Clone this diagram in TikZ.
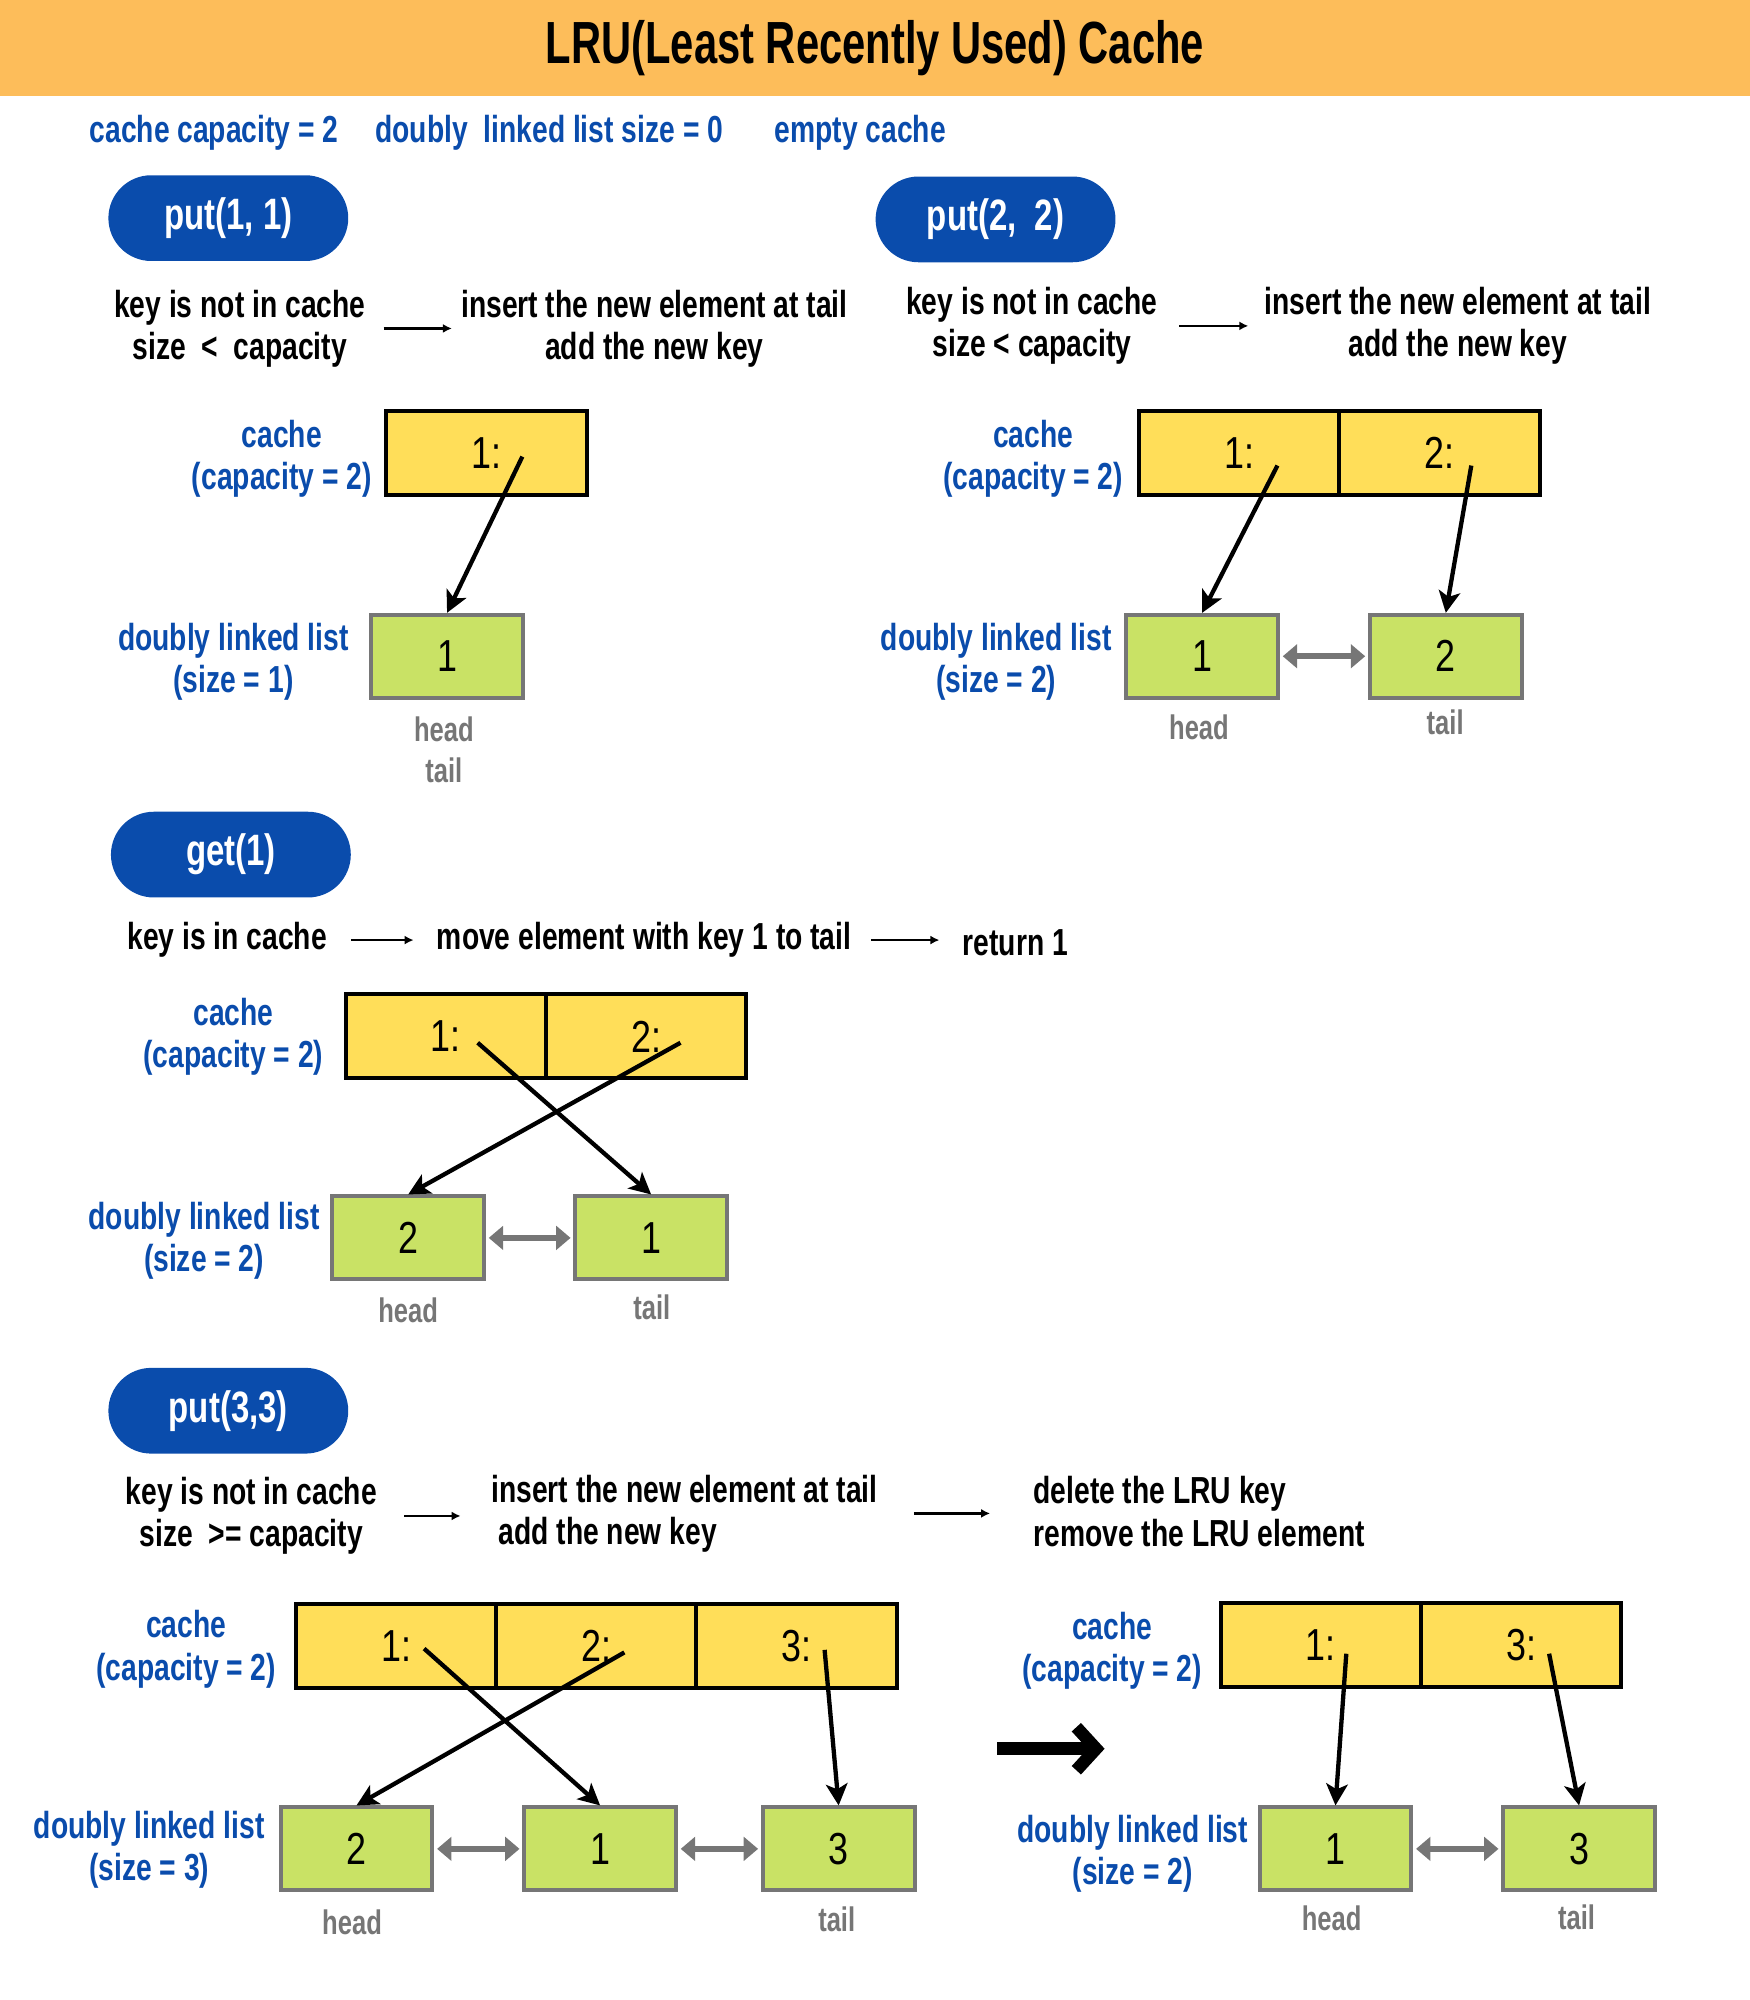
\documentclass[tikz,border=0pt]{standalone}
\usepackage{graphicx}
\usepackage{fontspec}
\setmainfont{Liberation Sans}[FakeStretch=0.75]
\newfontfamily\digitfont{Liberation Sans}[FakeStretch=0.8]
\usetikzlibrary{arrows.meta,calc}

\definecolor{bannerorange}{HTML}{FDBD5A}
\definecolor{lrublue}{HTML}{0A4CAC}
\definecolor{cacheyellow}{HTML}{FFDE59}
\definecolor{listgreen}{HTML}{C9E265}
\definecolor{nodegray}{HTML}{767676}

\begin{document}
\begin{tikzpicture}[x=0.025cm,y=-0.025cm,
  banner/.style={fill=bannerorange, minimum width=34.3cm, minimum height=1.875cm, inner sep=0pt,
    font=\bfseries\fontsize{31}{36}\selectfont},
  txt/.style={font=\bfseries\fontsize{21}{23.5}\selectfont, text=black, inner sep=0pt},
  lbl/.style={font=\bfseries\fontsize{21}{23.5}\selectfont, text=lrublue, align=center, inner sep=0pt},
  pill/.style={fill=lrublue, rounded corners=0.84cm, minimum width=4.7cm, minimum height=1.68cm,
    text=white, font=\bfseries\fontsize{24.5}{27}\selectfont},
  cell/.style={draw=black, line width=2.2pt, fill=cacheyellow, minimum width=3.925cm,
    minimum height=1.65cm, font=\digitfont\fontsize{25}{28}\selectfont, inner sep=0pt},
  lnode/.style={draw=nodegray, line width=2.2pt, fill=listgreen, minimum width=2.975cm,
    minimum height=1.625cm, font=\digitfont\fontsize{25}{28}\selectfont, inner sep=0pt},
  endtag/.style={text=nodegray, font=\bfseries\fontsize{19}{21}\selectfont, inner sep=0pt},
  ptr/.style={-{Stealth[length=12pt,width=12pt,inset=3pt]}, line width=2.4pt, draw=black},
  link/.style={{Triangle[length=8pt,width=13pt]}-{Triangle[length=8pt,width=13pt]},
    line width=3.5pt, draw=nodegray, shorten <=1.5pt, shorten >=1.5pt},
  flow/.style={-{Latex[length=5pt,width=5pt]}, line width=1.3pt, draw=black},
  bigarrow/.style={-{Straight Barb[length=11pt,width=24pt]}, line width=7pt, draw=black}
]
\useasboundingbox (0,0) rectangle (1372,1568);

% heading and initial state
\node[banner] (title) at (686,37.5) {\raisebox{-2pt}{\scalebox{1}[1.07]{LRU(Least Recently Used) Cache}}};
\node[lbl, anchor=west] (cap) at (70,104) {cache capacity = 2};
\node[lbl, anchor=west] (dsize) at (294,104) {doubly~~linked list size = 0};
\node[lbl, anchor=west] (empty) at (607,104) {empty cache};

% ---------- put(1, 1) ----------
\node[pill] (op1) at (179,171) {put(1, 1)};
\node[txt, align=center] (a1) at (188,257.5) {key is not in cache\\size~~<~~capacity};
\node[txt, align=center] (b1) at (513,258) {insert the new element at tail\\add the new key};
\draw[flow, shorten <=10pt, shorten >=5pt] (a1.east) -- (a1.east -| b1.west);

\node[lbl] (k1) at (221,359.5) {cache\\(capacity = 2)};
\node[cell] (s1c1) at (381.5,355) {1:};
\node[lbl] (d1) at (183,518.5) {doubly linked list\\(size = 1)};
\node[lnode] (s1n1) at (350.5,514.5) {1};
\node[endtag] (s1h) at (348,572) {head};
\node[endtag] (s1t) at (348,604) {tail};
\draw[ptr] ($(s1c1.center)+(28,3)$) -- (s1n1.north);

% ---------- put(2, 2) ----------
\node[pill] (op2) at (780.5,172) {put(2,~~2)};
\node[txt, align=center] (a2) at (809,255.5) {key is not in cache\\size < capacity};
\node[txt, align=center] (b2) at (1143,255.5) {insert the new element at tail\\add the new key};
\draw[flow, shorten <=12pt, shorten >=9pt] (a2.east) -- (a2.east -| b2.west);

\node[lbl] (k2) at (810,359.5) {cache\\(capacity = 2)};
\node[cell] (s2c1) at (971.5,355) {1:};
\node[cell] (s2c2) at (1128.5,355) {2:};
\node[lbl] (d2) at (781,518.5) {doubly linked list\\(size = 2)};
\node[lnode] (s2n1) at (942.5,514.5) {1};
\node[lnode] (s2n2) at (1133.5,514.5) {2};
\node[endtag] (s2h) at (940,570) {head};
\node[endtag] (s2t) at (1133,566) {tail};
\draw[ptr] ($(s2c1.center)+(30,10)$) -- (s2n1.north);
\draw[ptr] ($(s2c2.center)+(25,10)$) -- (s2n2.north);
\draw[link] (s2n1.east) -- (s2n2.west);

% ---------- get(1) ----------
\node[pill] (op3) at (181,670) {get(1)};
\node[txt] (a3) at (178,737) {key is in cache};
\node[txt] (b3) at (505,737) {move element with key 1 to tail};
\node[txt] (r3) at (796,739) {return 1};
\draw[flow, shorten <=13.5pt, shorten >=12.8pt] (a3.east) -- (a3.east -| b3.west);
\draw[flow, shorten <=11pt, shorten >=12.8pt] (b3.east) -- (b3.east -| r3.west);

\node[lbl] (k3) at (183,813) {cache\\(capacity = 2)};
\node[cell] (s3c1) at (349.5,812.5) {1:};
\node[cell] (s3c2) at (506.5,812.5) {2:};
\node[lbl] (d3) at (160,973) {doubly linked list\\(size = 2)};
\node[lnode] (s3n1) at (320,970.5) {2};
\node[lnode] (s3n2) at (510.5,970.5) {1};
\node[endtag] (s3h) at (320,1027) {head};
\node[endtag] (s3t) at (511,1025) {tail};
\draw[ptr] ($(s3c1.center)+(25,5)$) -- (s3n2.north);
\draw[ptr] ($(s3c2.center)+(27,5)$) -- (s3n1.north);
\draw[link] (s3n1.east) -- (s3n2.west);

% ---------- put(3,3) ----------
\node[pill] (op4) at (179,1106) {put(3,3)};
\node[txt, align=center] (a4) at (197,1188.5) {key is not in cache\\size~~>= capacity};
\node[txt, align=left, anchor=west] (b4) at (385,1186.5) {insert the new element at tail\\\hspace{4pt}add the new key};
\node[txt, align=left, anchor=west] (e4) at (810,1185) {delete the LRU key\\remove the LRU element};
\draw[flow, shorten <=15pt, shorten >=17pt] (a4.east) -- (a4.east -| b4.west);
\draw[flow, shorten <=20pt, shorten >=24pt] (b4.east) -- (b4.east -| e4.west);

\node[lbl] (k4) at (146,1293) {cache\\(capacity = 2)};
\node[cell] (s4c1) at (310.5,1290.5) {1:};
\node[cell] (s4c2) at (467.5,1290.5) {2:};
\node[cell] (s4c3) at (624.5,1290.5) {3:};
\node[lbl] (d4) at (117,1450.5) {doubly linked list\\(size = 3)};
\node[lnode] (s4n1) at (279.5,1449.5) {2};
\node[lnode] (s4n2) at (470.5,1449.5) {1};
\node[lnode] (s4n3) at (657.5,1449.5) {3};
\node[endtag] (s4h) at (276,1507) {head};
\node[endtag] (s4t) at (656,1505) {tail};
\draw[ptr] ($(s4c1.center)+(22,2)$) -- (s4n2.north);
\draw[ptr] ($(s4c2.center)+(22,5)$) -- (s4n1.north);
\draw[ptr] ($(s4c3.center)+(22,3)$) -- (s4n3.north);
\draw[link] (s4n1.east) -- (s4n2.west);
\draw[link] (s4n2.east) -- (s4n3.west);

% eviction result
\coordinate (evS) at (782,1371);
\coordinate (evE) at (866,1371);
\draw[bigarrow] (evS) -- (evE);

\node[lbl] (k5) at (872,1294) {cache\\(capacity = 2)};
\node[cell] (s5c1) at (1035.5,1289.5) {1:};
\node[cell] (s5c2) at (1192.5,1289.5) {3:};
\node[lbl] (d5) at (888,1453.5) {doubly linked list\\(size = 2)};
\node[lnode] (s5n1) at (1047,1449.5) {1};
\node[lnode] (s5n2) at (1238,1449.5) {3};
\node[endtag] (s5h) at (1044,1504) {head};
\node[endtag] (s5t) at (1236,1503) {tail};
\draw[ptr] ($(s5c1.center)+(20,7)$) -- (s5n1.north);
\draw[ptr] ($(s5c2.center)+(22,7)$) -- (s5n2.north);
\draw[link] (s5n1.east) -- (s5n2.west);
\end{tikzpicture}
\end{document}
